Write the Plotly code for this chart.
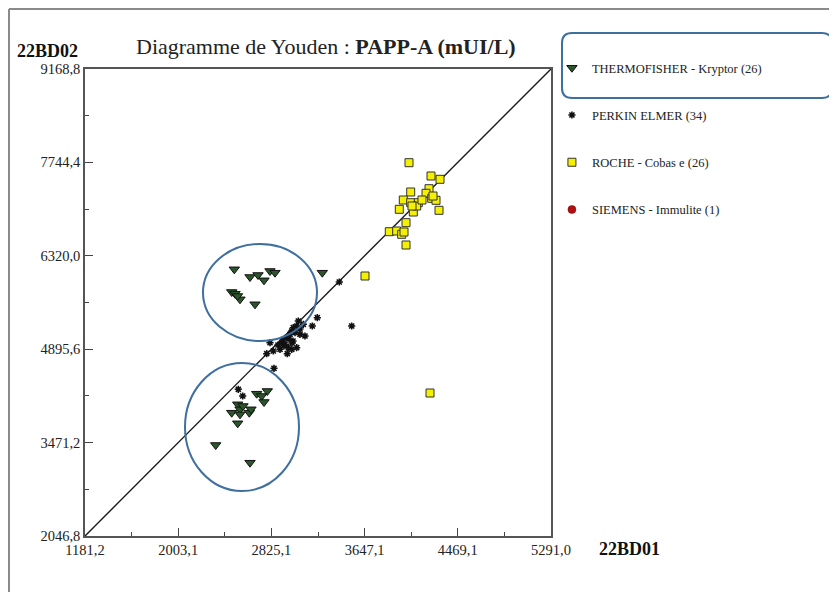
import plotly.graph_objects as go

# ---------------- data ----------------
x_range = [1181.2, 5291.0]
y_range = [2046.8, 9168.8]
x_ticks = [1181.2, 2003.1, 2825.1, 3647.1, 4469.1, 5291.0]
x_tick_labels = ["1181,2", "2003,1", "2825,1", "3647,1", "4469,1", "5291,0"]
y_ticks = [2046.8, 3471.2, 4895.6, 6320.0, 7744.4, 9168.8]
y_tick_labels = ["2046,8", "3471,2", "4895,6", "6320,0", "7744,4", "9168,8"]

thermo_x = [2497.9, 2636.4, 2706.9, 2759.8, 2812.7, 2856.8, 3274.0, 2475.0, 2504.1,
            2548.2, 2680.5, 2526.0,
            2789.0, 2695.4, 2739.5, 2759.8, 2527.9, 2548.2, 2475.0, 2548.2, 2630.2,
            2645.2, 2527.9, 2333.9, 2636.4, 2574.6]
thermo_y = [6114.1, 5996.7, 6027.2, 5946.4, 6088.1, 6062.3, 6062.3, 5767.9, 5742.0,
            5656.5, 5580.5, 5707.0,
            4258.0, 4217.0, 4181.8, 4090.4, 4055.3, 3979.0, 3927.2, 3902.7, 3927.2,
            3979.0, 3765.5, 3434.6, 3164.7, 4029.0]

perkin_x = [3423.9, 3533.3, 3229.9, 3185.8, 3062.4, 3106.5, 3048.2, 3018.3, 3004.2,
            3033.3, 3077.3, 2989.2, 2960.1, 2930.1, 2916.0, 2945.1, 2974.2, 3048.2,
            3004.2, 2965.3, 2901.0, 2841.9, 2783.7, 2812.8, 3121.4, 2848.0, 2533.2,
            2572.0, 3015.6, 2980.3, 2936.2, 2883.3, 3077.3, 3006.8]
perkin_y = [5920.4, 5249.4, 5376.0, 5249.4, 5325.7, 5275.3, 5249.4, 5223.5, 5173.2,
            5147.2, 5122.8, 5122.8, 5071.0, 5046.6, 4994.7, 4970.3, 4918.5, 4918.5,
            4894.1, 4827.0, 4894.1, 4868.1, 4827.0, 4994.7, 5096.9, 4604.3, 4284.1,
            4181.9, 5020.6, 5051.2, 4944.4, 4959.6, 5203.7, 4990.1]

roche_x = [4038.7, 4232.7, 4312.1, 4215.0, 4053.6, 4188.6, 3988.4, 4053.6, 4120.7,
           4238.8, 4276.8, 3953.1, 4076.6, 4106.6, 4303.2, 4012.2, 3864.9, 3930.2,
           3974.3, 4012.2, 3650.6, 4223.9, 4250.3, 4065.1, 4153.3, 3994.6]
roche_y = [7739.8, 7537.0, 7486.7, 7343.3, 7293.0, 7273.1, 7171.0, 7129.8, 7129.8,
           7196.9, 7166.4, 7029.1, 6988.0, 7079.5, 7013.9, 6824.8, 6687.5, 6698.2,
           6647.9, 6484.7, 6011.9, 4227.6, 7232.0, 7079.5, 7171.0, 6683.0]

# Siemens value is not visible inside the plotted window
siemens_x = [5600.0]
siemens_y = [9800.0]

serif = "Liberation Serif, Times New Roman, serif"

fig = go.Figure()

# diagonal (identity of the two ranges)
fig.add_trace(go.Scatter(x=x_range, y=y_range, mode="lines",
                         line=dict(color="#1a1a1a", width=1.4),
                         showlegend=False, hoverinfo="skip"))

fig.add_trace(go.Scatter(x=thermo_x, y=thermo_y, mode="markers",
                         name="THERMOFISHER - Kryptor (26)", legendgroup="a",
                         marker=dict(symbol="triangle-down", size=9, color="#2B562B",
                                     line=dict(color="#111", width=1))))
fig.add_trace(go.Scatter(x=perkin_x, y=perkin_y, mode="markers",
                         name="PERKIN ELMER (34)", legendgroup="b",
                         marker=dict(symbol="asterisk-open", size=6, color="#111",
                                     line=dict(color="#111", width=1.6))))
fig.add_trace(go.Scatter(x=roche_x, y=roche_y, mode="markers",
                         name="ROCHE - Cobas e (26)", legendgroup="c",
                         marker=dict(symbol="square", size=8, color="#F4F000",
                                     line=dict(color="#333", width=1))))
fig.add_trace(go.Scatter(x=siemens_x, y=siemens_y, mode="markers",
                         name="SIEMENS - Immulite (1)", legendgroup="d",
                         marker=dict(symbol="circle", size=8, color="#B01010",
                                     line=dict(color="#700", width=0.5))))

axis_common = dict(showline=True, linecolor="#555", linewidth=1.6, mirror=True,
                   showgrid=False, zeroline=False, ticks="inside", ticklen=8,
                   tickwidth=1.3, tickcolor="#444",
                   tickfont=dict(family=serif, size=14.5, color="#222"))

fig.update_xaxes(range=x_range, tickmode="array", tickvals=x_ticks,
                 ticktext=x_tick_labels,
                 minor=dict(tickmode="array",
                            tickvals=[(a + b) / 2 for a, b in zip(x_ticks[:-1], x_ticks[1:])],
                            ticks="inside", ticklen=4, tickcolor="#444", tickwidth=1.3),
                 **axis_common)
fig.update_yaxes(range=y_range, tickmode="array", tickvals=y_ticks,
                 ticktext=y_tick_labels,
                 minor=dict(tickmode="array",
                            tickvals=[(a + b) / 2 for a, b in zip(y_ticks[:-1], y_ticks[1:])],
                            ticks="inside", ticklen=4, tickcolor="#444", tickwidth=1.3),
                 **axis_common)

blue = "#3F6F9F"
shapes = [
    # ellipses highlighting Thermofisher groups
    dict(type="circle", xref="x", yref="y", x0=2221.9, x1=3227.3, y0=5020.6, y1=6499.9,
         line=dict(color=blue, width=2)),
    dict(type="circle", xref="x", yref="y", x0=2063.1, x1=3068.5, y0=2733.1, y1=4685.1,
         line=dict(color=blue, width=2)),
    # page border
    dict(type="line", xref="paper", yref="paper", x0=-0.1631, x1=1.70, y0=1.1285, y1=1.1285,
         line=dict(color="#8a8a8a", width=2)),
    dict(type="line", xref="paper", yref="paper", x0=-0.1631, x1=-0.1631, y0=1.1285, y1=-0.15,
         line=dict(color="#8a8a8a", width=2)),
]
# rounded box around first legend entry
x0, x1, y0, y1 = 1.0236, 1.603, 0.9379, 1.0771
rx, ry = 0.0215, 0.0214
path = (f"M {x0+rx},{y1} L {x1-rx},{y1} Q {x1},{y1} {x1},{y1-ry} L {x1},{y0+ry} "
        f"Q {x1},{y0} {x1-rx},{y0} L {x0+rx},{y0} Q {x0},{y0} {x0},{y0+ry} "
        f"L {x0},{y1-ry} Q {x0},{y1} {x0+rx},{y1} Z")
shapes.append(dict(type="path", xref="paper", yref="paper", path=path,
                   line=dict(color=blue, width=2)))

annotations = [
    dict(text="Diagramme de Youden : <b>PAPP-A (mUI/L)</b>", xref="paper", yref="paper",
         x=0.518, y=1.049, showarrow=False, xanchor="center", yanchor="middle",
         font=dict(family=serif, size=22, color="#222")),
    dict(text="<b>22BD02</b>", xref="paper", yref="paper", x=-0.0794, y=1.0385,
         showarrow=False, xanchor="center", yanchor="middle",
         font=dict(family=serif, size=18, color="#111")),
    dict(text="<b>22BD01</b>", xref="paper", yref="paper", x=1.1674, y=-0.0278,
         showarrow=False, xanchor="center", yanchor="middle",
         font=dict(family=serif, size=18, color="#111")),
]

fig.update_layout(
    width=837, height=592,
    margin=dict(l=77, r=294, t=61, b=64),
    paper_bgcolor="white", plot_bgcolor="white",
    shapes=shapes, annotations=annotations,
    showlegend=True,
    legend=dict(x=1.002, y=1.034, xanchor="left", yanchor="top",
                traceorder="grouped", tracegroupgap=28,
                font=dict(family=serif, size=12.5, color="#222"),
                bgcolor="rgba(0,0,0,0)", itemclick=False),
)

fig.write_html("out.html")
